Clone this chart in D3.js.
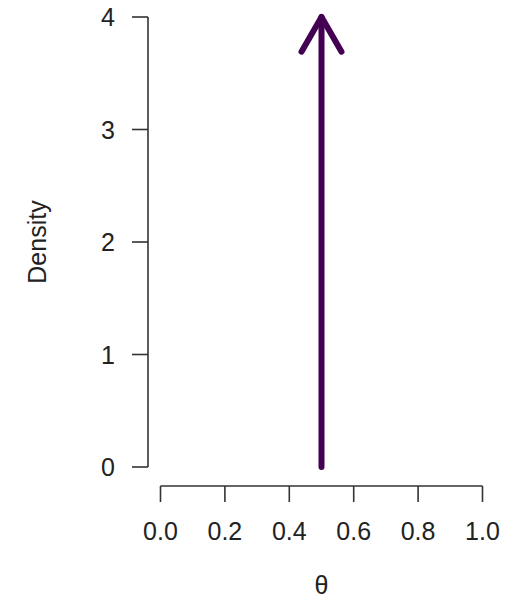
<!DOCTYPE html>
<html lang="en">
<head>
<meta charset="UTF-8">
<title>Density</title>
<style>
  body { margin: 0; background: #fff; }
  text { font-family: "Liberation Sans", Arial, sans-serif; fill: #222; }
</style>
<script src="https://d3js.org/d3.v7.min.js"></script>
</head>
<body>
<script>
// point mass at theta = 0.5, drawn as an arrow up to the top of the axis
const xTicks = [0, 0.2, 0.4, 0.6, 0.8, 1.0];
const yTicks = [0, 1, 2, 3, 4];
const spikeAt = [0.5];
const spikeHeight = [4];

const width = 523, height = 599;
const x = d3.scaleLinear().domain([0, 1]).range([160.5, 482.5]);
const y = d3.scaleLinear().domain([0, 4]).range([467, 17]);

const svg = d3.select("body").append("svg")
    .attr("width", width).attr("height", height);

const axisColor = "#333";
const fs = 25;

// y axis (R style, detached)
svg.append("line")
    .attr("x1", 148).attr("x2", 148)
    .attr("y1", y(0)).attr("y2", y(4))
    .attr("stroke", axisColor).attr("stroke-width", 1.6);
svg.selectAll(".ytick").data(yTicks).enter().append("line")
    .attr("x1", 132).attr("x2", 148)
    .attr("y1", d => y(d)).attr("y2", d => y(d))
    .attr("stroke", axisColor).attr("stroke-width", 1.6);
svg.selectAll(".ylab").data(yTicks).enter().append("text")
    .attr("x", 115).attr("y", d => y(d))
    .attr("dy", "0.36em")
    .attr("text-anchor", "end")
    .style("font-size", fs + "px")
    .text(d => d);

// x axis
const xAxisY = 486;
svg.append("line")
    .attr("x1", x(0)).attr("x2", x(1))
    .attr("y1", xAxisY).attr("y2", xAxisY)
    .attr("stroke", axisColor).attr("stroke-width", 1.6);
svg.selectAll(".xtick").data(xTicks).enter().append("line")
    .attr("x1", d => x(d)).attr("x2", d => x(d))
    .attr("y1", xAxisY).attr("y2", xAxisY + 16)
    .attr("stroke", axisColor).attr("stroke-width", 1.6);
svg.selectAll(".xlab").data(xTicks).enter().append("text")
    .attr("x", d => x(d)).attr("y", 540)
    .attr("text-anchor", "middle")
    .style("font-size", fs + "px")
    .text(d => d3.format(".1f")(d));

// axis titles
svg.append("text")
    .attr("x", x(0.5)).attr("y", 594)
    .attr("text-anchor", "middle")
    .style("font-size", fs + "px")
    .text("θ");
svg.append("text")
    .attr("transform", `translate(46,${y(2)}) rotate(-90)`)
    .attr("text-anchor", "middle")
    .style("font-size", fs + "px")
    .text("Density");

// arrow
const purple = "#440154";
spikeAt.forEach((t, i) => {
    const px = x(t), top = y(spikeHeight[i]);
    svg.append("line")
        .attr("x1", px).attr("x2", px)
        .attr("y1", y(0)).attr("y2", top)
        .attr("stroke", purple).attr("stroke-width", 6)
        .attr("stroke-linecap", "round");
    const len = 40, ang = Math.PI / 6;
    svg.append("path")
        .attr("d", `M${px - len * Math.sin(ang)},${top + len * Math.cos(ang)} L${px},${top} L${px + len * Math.sin(ang)},${top + len * Math.cos(ang)}`)
        .attr("fill", "none")
        .attr("stroke", purple).attr("stroke-width", 6)
        .attr("stroke-linecap", "round").attr("stroke-linejoin", "round");
});
</script>
</body>
</html>
